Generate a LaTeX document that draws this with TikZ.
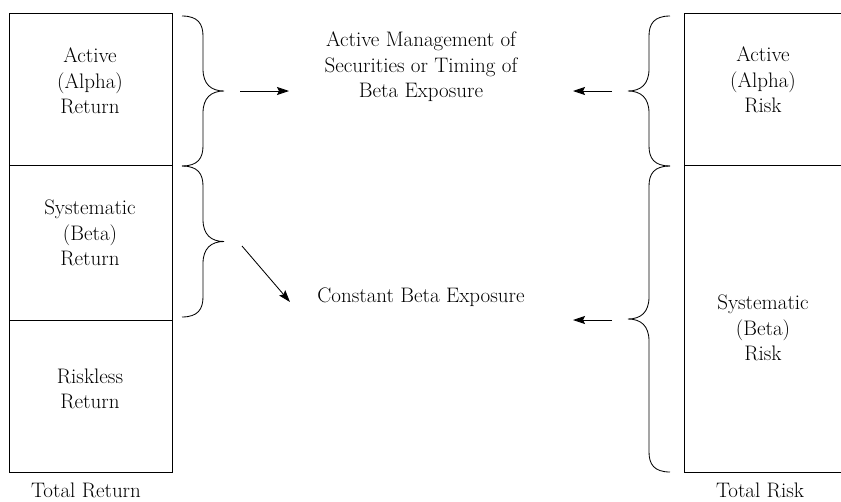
\documentclass[tikz,border=0pt]{standalone}
\usetikzlibrary{arrows.meta}
\tikzset{
  cell/.style={draw, line width=0.9pt, inner sep=0pt, anchor=north west},
  txt/.style={align=center, inner sep=0pt, font=\fontsize{21}{25.5}\selectfont},
  brc/.style={draw, line width=0.85pt},
  arr/.style={-{Stealth[length=12pt,width=8pt,inset=2pt]}, line width=0.85pt},
}
\newcommand{\mybrace}[4]{% x0, ytop, ybottom, direction (1 = tip right, -1 = tip left)
  \pgfmathsetmacro\ymid{(#2+#3)/2}
  \draw[brc] (#1,#2) .. controls +({(#4)*16},0) and +(0,-12) .. ({#1+(#4)*21},{#2+20})
    -- ({#1+(#4)*21},{\ymid-22}) .. controls +(0,15) and +({-(#4)*13},0) .. ({#1+(#4)*42},\ymid)
    .. controls +({-(#4)*13},0) and +(0,-15) .. ({#1+(#4)*21},{\ymid+22})
    -- ({#1+(#4)*21},{#3-20}) .. controls +(0,12) and +({(#4)*16},0) .. (#1,#3);
}
\begin{document}
\begin{tikzpicture}[x=1pt,y=-1pt]
\useasboundingbox (0,0) rectangle (841,501);
% left column
\node[cell, minimum width=163pt, minimum height=152pt] (la) at (9,13) {};
\node[cell, minimum width=163pt, minimum height=155pt] (lb) at (9,165) {};
\node[cell, minimum width=163pt, minimum height=152pt] (lc) at (9,320) {};
\node[txt] (lat) at (90,81) {Active\\(Alpha)\\Return};
\node[txt] (lbt) at (90,233) {Systematic\\(Beta)\\Return};
\node[txt] (lct) at (90,389) {Riskless\\Return};
\node[txt] (ltot) at (86,490) {Total Return};
% right column
\node[cell, minimum width=160pt, minimum height=152pt] (ra) at (684,13) {};
\node[cell, minimum width=160pt, minimum height=307pt] (rb) at (684,165) {};
\node[txt] (rat) at (763,80) {Active\\(Alpha)\\Risk};
\node[txt] (rbt) at (763,328) {Systematic\\(Beta)\\Risk};
\node[txt] (rtot) at (760,490) {Total Risk};
% middle texts
\node[txt] (mt) at (421,67) {Active Management of\\Securities or Timing of\\Beta Exposure};
\node[txt] (mb) at (421,297) {Constant Beta Exposure};
% braces
\mybrace{182}{16}{166}{1}
\mybrace{182}{166}{317}{1}
\mybrace{670}{16}{166}{-1}
\mybrace{670}{166}{472}{-1}
% arrows
\coordinate (a1s) at (240,91); \coordinate (a1e) at (289,91);
\coordinate (a2s) at (242,246); \coordinate (a2e) at (290,302);
\coordinate (a3s) at (612,91); \coordinate (a3e) at (573,91);
\coordinate (a4s) at (612,320); \coordinate (a4e) at (573,320);
\draw[arr] (a1s) -- (a1e);
\draw[arr] (a2s) -- (a2e);
\draw[arr] (a3s) -- (a3e);
\draw[arr] (a4s) -- (a4e);
\end{tikzpicture}
\end{document}
